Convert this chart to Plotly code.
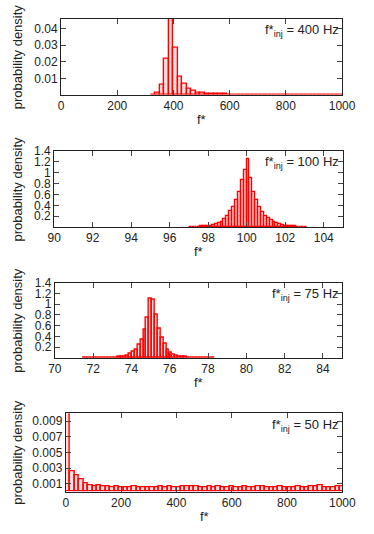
"""
plot.py - histograms of the recovered frequency f* for four injected frequencies.
"""

import plotly.graph_objects as go

W, H = 374, 534

# --- data -------------------------------------------------------------------
# f*_inj = 400 Hz : bins of width 16 starting at 320
P400_START, P400_BIN = 320, 16
P400_VALUES = [
    0.0003, 0.0010, 0.0063, 0.0218, 0.0600, 0.0287, 0.0108, 0.0064, 0.0038,
    0.0023, 0.0015, 0.0011, 0.0008, 0.0006, 0.0005, 0.0004, 0.0004, 0.0003,
    0.0003, 0.0003, 0.0002, 0.0003, 0.0002, 0.0002, 0.0003, 0.0002, 0.0002,
    0.0002, 0.0003, 0.0002, 0.0002, 0.0002, 0.0002, 0.0003, 0.0002, 0.0002,
    0.0002, 0.0002, 0.0002, 0.0003, 0.0002, 0.0002, 0.0002,
]

# f*_inj = 100 Hz : bins of width 0.15 starting at 97.0
P100_START, P100_BIN = 97.0, 0.15
P100_VALUES = [
    0.004, 0.005, 0.006, 0.008, 0.010, 0.012, 0.016, 0.025, 0.037, 0.055,
    0.074, 0.100, 0.148, 0.210, 0.290, 0.377, 0.506, 0.640, 0.870, 1.055,
    1.247,
    0.900, 0.640, 0.490, 0.360, 0.280, 0.210, 0.160, 0.120, 0.090, 0.070,
    0.050, 0.037, 0.027, 0.020, 0.015, 0.011, 0.008, 0.006, 0.005, 0.004,
]

# f*_inj = 75 Hz : bins of width 0.15 starting at 71.475
P75_START, P75_BIN = 71.475, 0.15
P75_VALUES = [
    0.002, 0.003, 0.003, 0.004, 0.004, 0.005, 0.006, 0.007, 0.008, 0.010,
    0.012, 0.014, 0.018, 0.025, 0.030, 0.050, 0.073, 0.116, 0.165, 0.245,
    0.350, 0.530, 0.745, 1.110,
    1.090, 0.800, 0.550, 0.370, 0.260, 0.165, 0.100, 0.070, 0.050, 0.035,
    0.025, 0.018, 0.013, 0.010, 0.008, 0.006, 0.005, 0.004, 0.004, 0.003,
    0.003, 0.002,
]

# f*_inj = 50 Hz : bins of width 16 starting at 0
P50_START, P50_BIN = 0, 16
P50_VALUES = [
    0.01250, 0.00260, 0.00205, 0.00153, 0.00106, 0.00085, 0.00068, 0.00076,
    0.00072, 0.00068, 0.00060, 0.00064, 0.00058, 0.00060, 0.00056, 0.00062,
    0.00058, 0.00054, 0.00058, 0.00060, 0.00056, 0.00062, 0.00060, 0.00066,
    0.00060, 0.00056, 0.00064, 0.00070, 0.00062, 0.00066, 0.00058, 0.00056,
    0.00064, 0.00060, 0.00066, 0.00058, 0.00056, 0.00062, 0.00060, 0.00058,
    0.00064, 0.00060, 0.00058, 0.00062, 0.00064, 0.00060, 0.00056, 0.00060,
    0.00064, 0.00058, 0.00054, 0.00060, 0.00062, 0.00058, 0.00056, 0.00070,
    0.00064, 0.00074, 0.00060, 0.00058, 0.00060, 0.00064, 0.00072,
]

PANELS = [
    # label, start, bin, values, x range, x ticks, y range, y ticks
    ("400", P400_START, P400_BIN, P400_VALUES, [0, 1000], [0, 200, 400, 600, 800, 1000],
     [0, 0.046], [0.01, 0.02, 0.03, 0.04]),
    ("100", P100_START, P100_BIN, P100_VALUES, [90, 105], [90, 92, 94, 96, 98, 100, 102, 104],
     [0, 1.4], [0.2, 0.4, 0.6, 0.8, 1.0, 1.2, 1.4]),
    ("75", P75_START, P75_BIN, P75_VALUES, [70, 85], [70, 72, 74, 76, 78, 80, 82, 84],
     [0, 1.4], [0.2, 0.4, 0.6, 0.8, 1.0, 1.2, 1.4]),
    ("50", P50_START, P50_BIN, P50_VALUES, [0, 1000], [0, 200, 400, 600, 800, 1000],
     [0, 0.01], [0.001, 0.003, 0.005, 0.007, 0.009]),
]

# plot boxes in pixels: left, right, top, bottom
BOXES = [
    (57.3, 355.0, 12.0, 89.0),
    (50.0, 356.0, 146.0, 223.0),
    (50.7, 355.0, 279.3, 355.7),
    (62.3, 355.3, 411.7, 491.0),
]

FONT = dict(family="Liberation Sans, Arial, sans-serif", size=13, color="#222")
TICK_FONT = dict(FONT, size=12)
RED = "#ff0000"

fig = go.Figure()
annotations = []
layout_axes = {}

for i, ((label, start, width, values, xr, xt, yr, yt), (l, r, t, b)) in enumerate(zip(PANELS, BOXES)):
    n = "" if i == 0 else str(i + 1)
    centers = [start + width * (k + 0.5) for k in range(len(values))]
    fig.add_trace(go.Bar(
        x=centers, y=values, width=width,
        marker=dict(color="rgba(255,0,0,0.13)", line=dict(color=RED, width=1.4)),
        xaxis="x" + n, yaxis="y" + n, showlegend=False,
    ))
    axis_common = dict(
        showline=True, linecolor="#222", linewidth=1, mirror="allticks",
        ticks="inside", ticklen=5, tickcolor="#444", tickwidth=1,
        showgrid=False, zeroline=False, tickfont=TICK_FONT,
    )
    layout_axes["xaxis" + n] = dict(
        axis_common, domain=[l / W, r / W], range=xr, tickvals=xt,
        anchor="y" + n,
    )
    layout_axes["yaxis" + n] = dict(
        axis_common, domain=[1 - b / H, 1 - t / H], range=yr, tickvals=yt,
        anchor="x" + n,
    )
    # f*_inj label inside the top right corner
    annotations.append(dict(
        text="f*<sub>inj</sub> = %s Hz" % label, xref="paper", yref="paper",
        x=354 / W, y=1 - (t + 12) / H, xanchor="right", yanchor="middle",
        showarrow=False, font=FONT,
    ))
    # axis titles
    annotations.append(dict(
        text="probability density", xref="paper", yref="paper",
        x=11 / W, y=1 - (t + b) / 2 / H, xanchor="center", yanchor="middle",
        textangle=-90, showarrow=False, font=FONT,
    ))
    annotations.append(dict(
        text="f*", xref="paper", yref="paper",
        x=(l + r) / 2 / W, y=1 - (b + 25) / H, xanchor="center", yanchor="middle",
        showarrow=False, font=FONT,
    ))

fig.update_layout(
    width=W, height=H,
    margin=dict(l=0, r=0, t=0, b=0),
    paper_bgcolor="white", plot_bgcolor="white",
    bargap=0, annotations=annotations,
    **layout_axes,
)

# place the figure at the page's top left corner, without the mode bar
fig.write_html(
    "out.html",
    config={"displayModeBar": False},
    post_script="document.body.style.margin='0';document.body.style.overflow='hidden';",
)
